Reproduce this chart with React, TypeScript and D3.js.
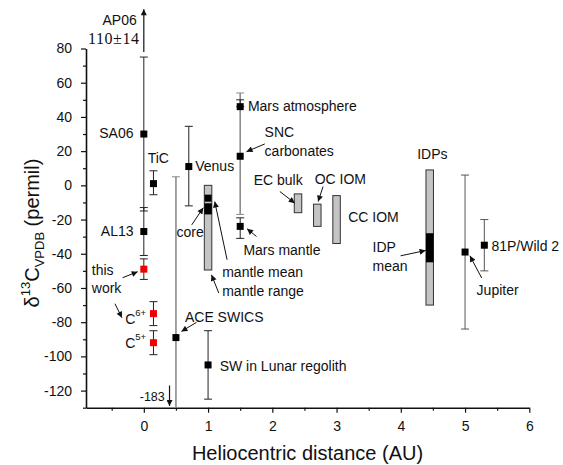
import React, { useEffect, useRef } from "react";
import * as d3 from "d3";

// heliocentric distance (AU), delta13C (permil) and the low/high ends of each error bar
const points = [
  { name: "SA06", au: 0, d13c: 30, lo: -15, hi: 75, source: "lit", bar: "black" },
  { name: "AL13", au: 0, d13c: -27, lo: -41, hi: -13, source: "lit", bar: "black" },
  { name: "this work", au: 0, d13c: -49, lo: -55, hi: -43, source: "this", bar: "black" },
  { name: "TiC", au: 0.15, d13c: 1, lo: -5.5, hi: 8.5, source: "lit", bar: "black" },
  { name: "C6+", au: 0.15, d13c: -75, lo: -82, hi: -68, source: "this", bar: "black" },
  { name: "C5+", au: 0.15, d13c: -92, lo: -99, hi: -85, source: "this", bar: "black" },
  { name: "Venus", au: 0.7, d13c: 11, lo: -12, hi: 34.5, source: "lit", bar: "black" },
  { name: "ACE SWICS", au: 0.5, d13c: -89, lo: -183, hi: 5, source: "lit", bar: "gray" },
  { name: "SW in Lunar regolith", au: 1, d13c: -105, lo: -125, hi: -85, source: "lit", bar: "black" },
  { name: "SNC carbonates", au: 1.5, d13c: 17, lo: -17, hi: 54, source: "lit", bar: "gray" },
  { name: "Mars atmosphere", au: 1.5, d13c: 46, lo: 46, hi: 50, source: "lit", bar: "black" },
  { name: "Mars mantle", au: 1.5, d13c: -24, lo: -31, hi: -19, source: "lit", bar: "black" },
  { name: "Jupiter", au: 5, d13c: -39, lo: -84, hi: 6, source: "lit", bar: "dark" },
  { name: "81P/Wild 2", au: 5.3, d13c: -35, lo: -50, hi: -20, source: "lit", bar: "dark" },
  { name: "core", au: 1, d13c: -7.5, lo: -7.5, hi: -7.5, source: "lit", bar: "black" },
];

// value ranges drawn as boxes
const ranges = [
  { name: "mantle range", au: 1, lo: -49.5, hi: 0, kind: "range" },
  { name: "mantle mean", au: 1, lo: -17, hi: -10.5, kind: "mean" },
  { name: "EC bulk", au: 2.4, lo: -16, hi: -5, kind: "range" },
  { name: "OC IOM", au: 2.7, lo: -24, hi: -11, kind: "range" },
  { name: "CC IOM", au: 3.0, lo: -34, hi: -6, kind: "range" },
  { name: "IDPs", au: 4.45, lo: -70, hi: 9, kind: "range" },
  { name: "IDP mean", au: 4.45, lo: -45, hi: -28, kind: "mean" },
];

// off-scale values shown as arrows
const offScale = [
  { name: "AP06", au: 0, from: 78, to: 103 },
  { name: "ACE low", au: 0.4, from: -117, to: -129 },
];

const xTicks = [0, 1, 2, 3, 4, 5, 6];
const yTicks = [-120, -100, -80, -60, -40, -20, 0, 20, 40, 60, 80];

// label layout, in data units
const notes = [
  { t: "AP06", x: -0.11, y: 96.6, a: "end" },
  { t: "SA06", x: -0.16, y: 30.7, a: "end" },
  { t: "TiC", x: 0.06, y: 16, a: "start" },
  { t: "AL13", x: -0.16, y: -26.6, a: "end" },
  { t: "this", x: -0.81, y: -49.3, a: "start" },
  { t: "work", x: -0.81, y: -59.9, a: "start" },
  { t: "ACE SWICS", x: 0.64, y: -76.8, a: "start" },
  { t: "SW in Lunar regolith", x: 1.18, y: -105.8, a: "start" },
  { t: "Venus", x: 0.8, y: 11.4, a: "start" },
  { t: "core", x: 0.51, y: -27, a: "start" },
  { t: "mantle mean", x: 1.22, y: -50.9, a: "start" },
  { t: "mantle range", x: 1.22, y: -62, a: "start" },
  { t: "Mars atmosphere", x: 1.62, y: 46.4, a: "start" },
  { t: "SNC", x: 1.88, y: 31.4, a: "start" },
  { t: "carbonates", x: 1.88, y: 20.1, a: "start" },
  { t: "Mars mantle", x: 1.55, y: -37.7, a: "start" },
  { t: "EC bulk", x: 1.71, y: 3.2, a: "start" },
  { t: "OC IOM", x: 2.66, y: 3.8, a: "start" },
  { t: "CC IOM", x: 3.18, y: -18.6, a: "start" },
  { t: "IDPs", x: 4.255, y: 18.4, a: "start" },
  { t: "IDP", x: 3.56, y: -36.1, a: "start" },
  { t: "mean", x: 3.56, y: -47.4, a: "start" },
  { t: "Jupiter", x: 5.18, y: -61, a: "start" },
  { t: "81P/Wild 2", x: 5.41, y: -35.7, a: "start" },
];

const pointers = [
  [-0.33, -54, -0.095, -50.5],
  [-0.45, -69.2, -0.34, -77.4],
  [0.82, -80.1, 0.585, -85.4],
  [0.746, -23.1, 0.925, -13.1],
  [1.296, -43.5, 1.104, -9.5],
  [1.167, -63, 1.053, -52.3],
  [1.883, 24.2, 1.598, 19.7],
  [1.754, -29.9, 1.607, -25.4],
  [2.117, -3.6, 2.35, -10.4],
  [2.79, -0.7, 2.713, -9.5],
  [3.997, -41.2, 4.386, -38.1],
  [5.259, -54.2, 5.076, -41.2],
];

const SANS = "Arial, 'Liberation Sans', sans-serif";
const barColor = { black: "#222", gray: "#8c8c8c", dark: "#555" };

export default function App() {
  const ref = useRef<SVGSVGElement>(null);

  useEffect(() => {
    const svg = d3.select(ref.current);
    svg.selectAll("*").remove();

    const x = d3.scaleLinear().domain([-0.9, 6]).range([86, 529.3]);
    const y = d3.scaleLinear().domain([-130, 80]).range([407.7, 48.5]);
    const [yMin, yMax] = y.domain();

    const defs = svg.append("defs");
    defs.append("marker")
      .attr("id", "head")
      .attr("viewBox", "0 0 10 10")
      .attr("refX", 10).attr("refY", 5)
      .attr("markerUnits", "userSpaceOnUse")
      .attr("markerWidth", 8).attr("markerHeight", 6)
      .attr("orient", "auto")
      .append("path").attr("d", "M0,0L10,5L0,10z").attr("fill", "#111");
    defs.append("marker")
      .attr("id", "bighead")
      .attr("viewBox", "0 0 10 10")
      .attr("refX", 10).attr("refY", 5)
      .attr("markerUnits", "userSpaceOnUse")
      .attr("markerWidth", 10).attr("markerHeight", 6)
      .attr("orient", "auto")
      .append("path").attr("d", "M0,0L10,5L0,10z").attr("fill", "#111");

    // axes
    const yAxis = svg.append("g")
      .attr("transform", `translate(${x(-0.9)},0)`)
      .call(d3.axisLeft(y).tickValues(yTicks).tickSize(5).tickSizeOuter(0).tickPadding(9).tickFormat(d => String(d)));
    svg.append("g")
      .attr("transform", `translate(${x(-0.9)},0)`)
      .call(d3.axisLeft(y).tickValues(d3.range(-130, 81, 10).filter(v => v % 20 !== 0)).tickSize(3).tickFormat(() => ""))
      .call(g => g.select(".domain").remove());
    const xAxis = svg.append("g")
      .attr("transform", `translate(0,${y(yMin)})`)
      .call(d3.axisBottom(x).tickValues(xTicks).tickSize(5).tickSizeOuter(0).tickPadding(8).tickFormat(d => String(d)));
    svg.append("g")
      .attr("transform", `translate(0,${y(yMin)})`)
      .call(d3.axisBottom(x).tickValues([-0.5, 0.5, 1.5, 2.5, 3.5, 4.5, 5.5]).tickSize(3).tickFormat(() => ""))
      .call(g => g.select(".domain").remove());
    [yAxis, xAxis].forEach(g => {
      g.attr("font-family", SANS).attr("font-size", 14);
      g.select(".domain").attr("stroke-width", 1.6).attr("stroke", "#111");
      g.selectAll("text").attr("fill", "#111");
    });
    svg.selectAll(".tick line").attr("stroke", "#111").attr("stroke-width", 1.2);

    // range boxes
    const boxW = 7.5;
    svg.append("g").selectAll("rect").data(ranges).enter().append("rect")
      .attr("x", d => x(d.au) - boxW / 2)
      .attr("y", d => y(d.hi))
      .attr("width", boxW)
      .attr("height", d => y(d.lo) - y(d.hi))
      .attr("fill", d => (d.kind === "mean" ? "#000" : "#c4c4c4"))
      .attr("stroke", d => (d.kind === "mean" ? "none" : "#333"))
      .attr("stroke-width", 1);

    // error bars and markers
    const capW = 8;
    const bars = svg.append("g");
    points.forEach(p => {
      if (p.lo === p.hi) return;
      const c = barColor[p.bar as keyof typeof barColor];
      const w = p.bar === "gray" ? 1.6 : 1;
      const top = Math.min(p.hi, yMax);
      const bot = Math.max(p.lo, yMin);
      bars.append("line")
        .attr("x1", x(p.au)).attr("x2", x(p.au))
        .attr("y1", y(top)).attr("y2", y(bot))
        .attr("stroke", c).attr("stroke-width", w);
      [p.lo, p.hi].forEach(v => {
        if (v < yMin || v > yMax) return;
        bars.append("line")
          .attr("x1", x(p.au) - capW / 2).attr("x2", x(p.au) + capW / 2)
          .attr("y1", y(v)).attr("y2", y(v))
          .attr("stroke", c).attr("stroke-width", 1);
      });
    });
    const sq = 7;
    svg.append("g").selectAll("rect").data(points).enter().append("rect")
      .attr("x", d => x(d.au) - sq / 2)
      .attr("y", d => y(d.d13c) - sq / 2)
      .attr("width", sq).attr("height", sq)
      .attr("fill", d => (d.source === "this" ? "#f00000" : "#000"));

    // off-scale arrows
    svg.append("g").selectAll("line").data(offScale).enter().append("line")
      .attr("x1", d => x(d.au)).attr("x2", d => x(d.au))
      .attr("y1", d => y(d.from)).attr("y2", d => y(d.to))
      .attr("stroke", "#111").attr("stroke-width", 1.2)
      .attr("marker-end", "url(#bighead)");

    // pointers
    svg.append("g").selectAll("line").data(pointers).enter().append("line")
      .attr("x1", d => x(d[0])).attr("y1", d => y(d[1]))
      .attr("x2", d => x(d[2])).attr("y2", d => y(d[3]))
      .attr("stroke", "#111").attr("stroke-width", 1)
      .attr("marker-end", "url(#head)");

    // labels
    svg.append("g").attr("font-family", SANS).attr("font-size", 14).attr("fill", "#111")
      .selectAll("text").data(notes).enter().append("text")
      .attr("x", d => x(d.x)).attr("y", d => y(d.y))
      .attr("dy", "0.36em")
      .attr("text-anchor", d => d.a)
      .text(d => d.t);

    svg.append("text")
      .attr("x", x(-0.064)).attr("y", y(86.1)).attr("dy", "0.36em")
      .attr("text-anchor", "end")
      .attr("font-family", "'Times New Roman', 'Liberation Serif', serif").attr("font-size", 16)
      .attr("letter-spacing", 0.6)
      .attr("fill", "#111")
      .text("110\u00b114");

    svg.append("text")
      .attr("x", x(0.326)).attr("y", y(-123.3)).attr("dy", "0.36em")
      .attr("text-anchor", "end")
      .attr("font-family", SANS).attr("font-size", 12.5).attr("fill", "#111")
      .text("-183");

    [["6+", -80.9], ["5+", -94.9]].forEach(([sup, v]) => {
      const t = svg.append("text")
        .attr("x", x(-0.29)).attr("y", y(v as number))
        .attr("font-family", SANS).attr("font-size", 14).attr("fill", "#111");
      t.append("tspan").text("C");
      t.append("tspan").attr("font-size", 9.5).attr("dy", -8).text(sup as string);
    });

    // axis titles
    svg.append("text")
      .attr("x", 307.5).attr("y", 460)
      .attr("text-anchor", "middle")
      .attr("font-family", SANS).attr("font-size", 20).attr("fill", "#111")
      .text("Heliocentric distance (AU)");

    const yl = svg.append("text")
      .attr("transform", "translate(39,233) rotate(-90)")
      .attr("text-anchor", "middle")
      .attr("font-family", SANS).attr("font-size", 20).attr("fill", "#111");
    yl.append("tspan").text("\u03b4");
    yl.append("tspan").attr("font-size", 13).attr("dy", -9).text("13");
    yl.append("tspan").attr("dy", 9).text("C");
    yl.append("tspan").attr("font-size", 13).attr("dy", 5).text("VPDB");
    yl.append("tspan").attr("dy", -5).text(" (permil)");
  }, []);

  return (
    <svg
      ref={ref}
      width={563}
      height={465}
      style={{ position: "absolute", left: 0, top: 0, background: "#fff" }}
    />
  );
}
